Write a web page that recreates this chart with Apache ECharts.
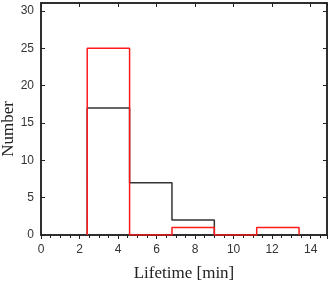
<!DOCTYPE html>
<html><head><meta charset="utf-8">
<script src="https://cdn.jsdelivr.net/npm/echarts@6/dist/echarts.min.js"></script>
<style>html,body{margin:0;padding:0;background:#fff}#c{width:333px;height:282px}</style>
</head><body><div id="c"></div>
<script>
var binEdges = [2.4, 4.6, 6.8, 9.0, 11.2, 13.4];
var blackCounts = [17, 7, 2];
var redCounts = [25, 0, 1, 0, 1];
var xTickLabels = ['0', '2', '4', '6', '8', '10', '12', '14'];
var yTickLabels = ['0', '5', '10', '15', '20', '25', '30'];

function outline(counts) {
  var pts = [[binEdges[0], 0]];
  for (var i = 0; i < counts.length; i++) {
    pts.push([binEdges[i], counts[i]]);
    pts.push([binEdges[i + 1], counts[i]]);
  }
  pts.push([binEdges[counts.length], 0]);
  return pts;
}

var chart = echarts.init(document.getElementById('c'));
chart.setOption({
  animation: false,
  grid: {left: 41, right: 6, top: 3, bottom: 47, containLabel: false, outerBoundsMode: 'none',
    show: true, borderColor: '#222', borderWidth: 1.5, backgroundColor: 'transparent'},
  xAxis: [{
    type: 'value', min: 0, max: 14.85, interval: 2,
    name: 'Lifetime [min]', nameLocation: 'middle', nameGap: 30,
    nameTextStyle: {fontFamily: 'Liberation Serif', fontSize: 17, color: '#222'},
    axisLine: {show: true, onZero: false, lineStyle: {color: '#222', width: 1.5}},
    axisTick: {inside: false, length: 4, lineStyle: {color: '#222'}},
    minorTick: {show: true, splitNumber: 4, length: 3, lineStyle: {color: '#222'}},
    axisLabel: {margin: 9, fontFamily: 'Liberation Sans', fontSize: 12, color: '#333', showMaxLabel: false,
      formatter: function (v) { var s = String(v); return xTickLabels.indexOf(s) >= 0 ? s : ''; }},
    splitLine: {show: false}
  }, {
    type: 'value', position: 'top', min: 0, max: 14.85, interval: 2,
    axisLine: {show: true, onZero: false, lineStyle: {color: '#222', width: 1.5}},
    axisTick: {show: true, inside: true, length: 4, lineStyle: {color: '#222'}},
    axisLabel: {show: false}, splitLine: {show: false}
  }],
  yAxis: [{
    type: 'value', min: 0, max: 31.05, interval: 5,
    name: 'Number', nameLocation: 'middle', nameGap: 24, nameMoveOverlap: false,
    nameTextStyle: {fontFamily: 'Liberation Serif', fontSize: 17, color: '#222', padding: [0, 20, 0, 0]},
    axisLine: {show: true, onZero: false, lineStyle: {color: '#222', width: 1.5}},
    axisTick: {inside: true, length: 4, lineStyle: {color: '#222'}},
    axisLabel: {margin: 7, fontFamily: 'Liberation Sans', fontSize: 12, color: '#333', showMaxLabel: false,
      formatter: function (v) { var s = String(v); return yTickLabels.indexOf(s) >= 0 ? s : ''; }},
    splitLine: {show: false}
  }, {
    type: 'value', position: 'right', min: 0, max: 31.05, interval: 5,
    axisLine: {show: true, onZero: false, lineStyle: {color: '#222', width: 1.5}},
    axisTick: {show: true, inside: true, length: 4, lineStyle: {color: '#222'}},
    axisLabel: {show: false}, splitLine: {show: false}
  }],
  series: [{
    type: 'line', data: outline(blackCounts), symbol: 'none', z: 3,
    lineStyle: {color: '#333', width: 1.5}
  }, {
    type: 'line', data: outline(redCounts), symbol: 'none', z: 4,
    lineStyle: {color: '#ff1a1a', width: 1.5}
  }, {
    type: 'line', data: [], xAxisIndex: 1, yAxisIndex: 1, symbol: 'none'
  }]
});
</script></body></html>
